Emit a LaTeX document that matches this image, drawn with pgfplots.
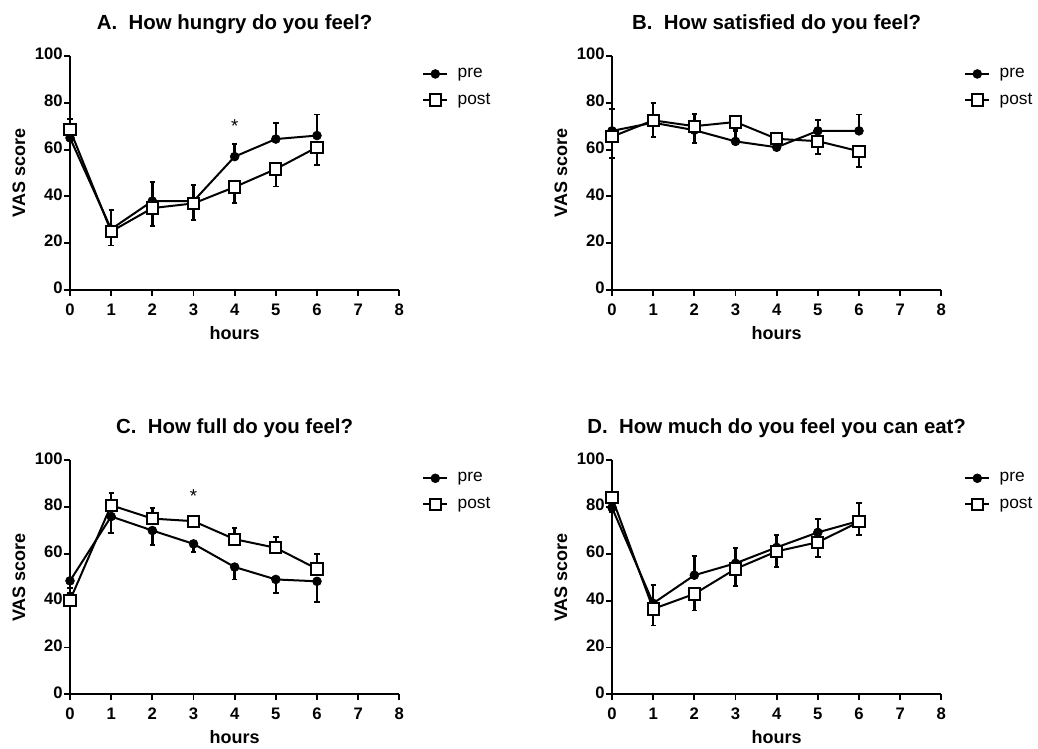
\documentclass[border=0pt]{standalone}
\usepackage{pgfplots}
\pgfplotsset{compat=1.18}
\usepackage{fontspec}
\setmainfont{Liberation Sans}
\pgfplotsset{
  vas/.style={
    scale only axis, width=247pt, height=175.5pt,
    xmin=0, xmax=8, ymin=0, ymax=100,
    xtick={0,1,...,8}, ytick={0,20,...,100},
    axis lines=left, axis line style={-, line width=1.5pt},
    tick align=outside, major tick length=4.5pt,
    tick style={line width=1.4pt, black},
    /pgf/number format/assume math mode=true,
    typeset ticklabels with strut,
    ticklabel style={font=\fontsize{12.5}{14}\selectfont\bfseries},
    xticklabel style={yshift=-1pt},
    yticklabel style={xshift=2.5pt},
    label style={font=\fontsize{13.5}{16}\selectfont\bfseries},
    xlabel={hours}, ylabel={VAS score},
    xlabel style={at={(axis description cs:0.5,-0.184)}, anchor=center},
    ylabel style={at={(axis description cs:-0.155,0.5)}, anchor=center},
    title style={font=\fontsize{15.3}{18}\selectfont\bfseries, at={(axis description cs:0.5,1)}, anchor=center, yshift=18pt},
    clip=false,
    legend style={at={(axis description cs:1.069,0.96)}, anchor=north west, draw=none, fill=none,
      font=\fontsize{13}{15}\selectfont, row sep=6.3pt, inner sep=0pt,
      nodes={inner sep=2pt},
      /tikz/every odd column/.append style={column sep=5pt}},
    legend image code/.code={\draw[mark repeat=2,mark phase=2] plot coordinates {(0pt,0pt) (9pt,0pt) (18pt,0pt)};},
    legend cell align=left,
  },
  pre/.style={black, line width=1.5pt, mark=*, mark size=3.3pt,
    mark options={solid, fill=black, line width=0.5pt},
    error bars/.cd, y dir=both, y explicit,
    error bar style={line width=1.8pt, black},
    error mark options={rotate=90, mark size=2pt, line width=1.4pt, black}},
  post/.style={black, line width=1.5pt, mark=square*, mark size=4.2pt,
    mark options={solid, fill=white, line width=1.5pt},
    error bars/.cd, y dir=both, y explicit,
    error bar style={line width=1.8pt, black},
    error mark options={rotate=90, mark size=2pt, line width=1.4pt, black}},
}
\begin{document}
\begin{tikzpicture}
\useasboundingbox (0,0) rectangle (778.5pt,561.75pt);

% Panel A
\begin{axis}[vas, at={(52.5pt,344.25pt)}, anchor=south west, title={A.\ \ How hungry do you feel?}]
\addplot+[pre] coordinates {
 (0,65) += (0,8) -= (0,0)
 (1,26) += (0,8) -= (0,0)
 (2,38) += (0,8) -= (0,0)
 (3,38) += (0,7) -= (0,0)
 (4,57) += (0,5.5) -= (0,0)
 (5,64.5) += (0,7) -= (0,0)
 (6,66) += (0,9) -= (0,0)
};
\addplot+[post] coordinates {
 (0,68.5) += (0,0) -= (0,3)
 (1,25) += (0,0) -= (0,6)
 (2,35) += (0,0) -= (0,7.5)
 (3,37) += (0,0) -= (0,7)
 (4,44) += (0,0) -= (0,7)
 (5,51.7) += (0,0) -= (0,7.5)
 (6,61) += (0,0) -= (0,7.5)
};
\legend{pre,post}
\node[font=\fontsize{14}{16}\selectfont] at (axis cs:4,70) {*};
\end{axis}

% Panel B
\begin{axis}[vas, at={(459pt,344.25pt)}, anchor=south west, title={B.\ \ How satisfied do you feel?}]
\addplot+[pre] coordinates {
 (0,68) += (0,9.5) -= (0,0)
 (1,71.5) += (0,8.5) -= (0,0)
 (2,68.3) += (0,7) -= (0,0)
 (3,63.5) += (0,5) -= (0,0)
 (4,61) += (0,2) -= (0,0)
 (5,68) += (0,4.5) -= (0,0)
 (6,68) += (0,7) -= (0,0)
};
\addplot+[post] coordinates {
 (0,65.5) += (0,0) -= (0,9)
 (1,72.5) += (0,0) -= (0,7)
 (2,70) += (0,0) -= (0,7)
 (3,71.8) += (0,0) -= (0,4)
 (4,64.6) += (0,0) -= (0,2)
 (5,63.6) += (0,0) -= (0,5.5)
 (6,59.3) += (0,0) -= (0,6.8)
};
\legend{pre,post}
\end{axis}

% Panel C
\begin{axis}[vas, at={(52.5pt,41pt)}, anchor=south west, title={C.\ \ How full do you feel?}]
\addplot+[pre] coordinates {
 (0,48.5) += (0,0) -= (0,3)
 (1,76) += (0,0) -= (0,7)
 (2,70) += (0,0) -= (0,6)
 (3,64.3) += (0,0) -= (0,3.5)
 (4,54.4) += (0,0) -= (0,5.3)
 (5,49.1) += (0,0) -= (0,5.9)
 (6,48.3) += (0,0) -= (0,8.7)
};
\addplot+[post] coordinates {
 (0,40.2) += (0,3) -= (0,0)
 (1,80.8) += (0,5.2) -= (0,0)
 (2,75.1) += (0,4.7) -= (0,0)
 (3,74) += (0,2.4) -= (0,0)
 (4,66.3) += (0,4.7) -= (0,0)
 (5,62.6) += (0,4.6) -= (0,0)
 (6,53.6) += (0,6.4) -= (0,0)
};
\legend{pre,post}
\node[font=\fontsize{14}{16}\selectfont] at (axis cs:3,84.7) {*};
\end{axis}

% Panel D
\begin{axis}[vas, at={(459pt,41pt)}, anchor=south west, title={D.\ \ How much do you feel you can eat?}]
\addplot+[pre] coordinates {
 (0,79.8) += (0,0) -= (0,2)
 (1,38.9) += (0,8) -= (0,0)
 (2,50.9) += (0,8.3) -= (0,0)
 (3,56) += (0,6.5) -= (0,0)
 (4,62.8) += (0,5.4) -= (0,0)
 (5,69.2) += (0,5.7) -= (0,0)
 (6,74.1) += (0,7.6) -= (0,0)
};
\addplot+[post] coordinates {
 (0,84.1) += (0,2) -= (0,0)
 (1,36.5) += (0,0) -= (0,7.1)
 (2,42.9) += (0,0) -= (0,7.1)
 (3,53.6) += (0,0) -= (0,7.2)
 (4,61.1) += (0,0) -= (0,6.6)
 (5,65) += (0,0) -= (0,6.2)
 (6,73.7) += (0,0) -= (0,5.7)
};
\legend{pre,post}
\end{axis}
\end{tikzpicture}
\end{document}
